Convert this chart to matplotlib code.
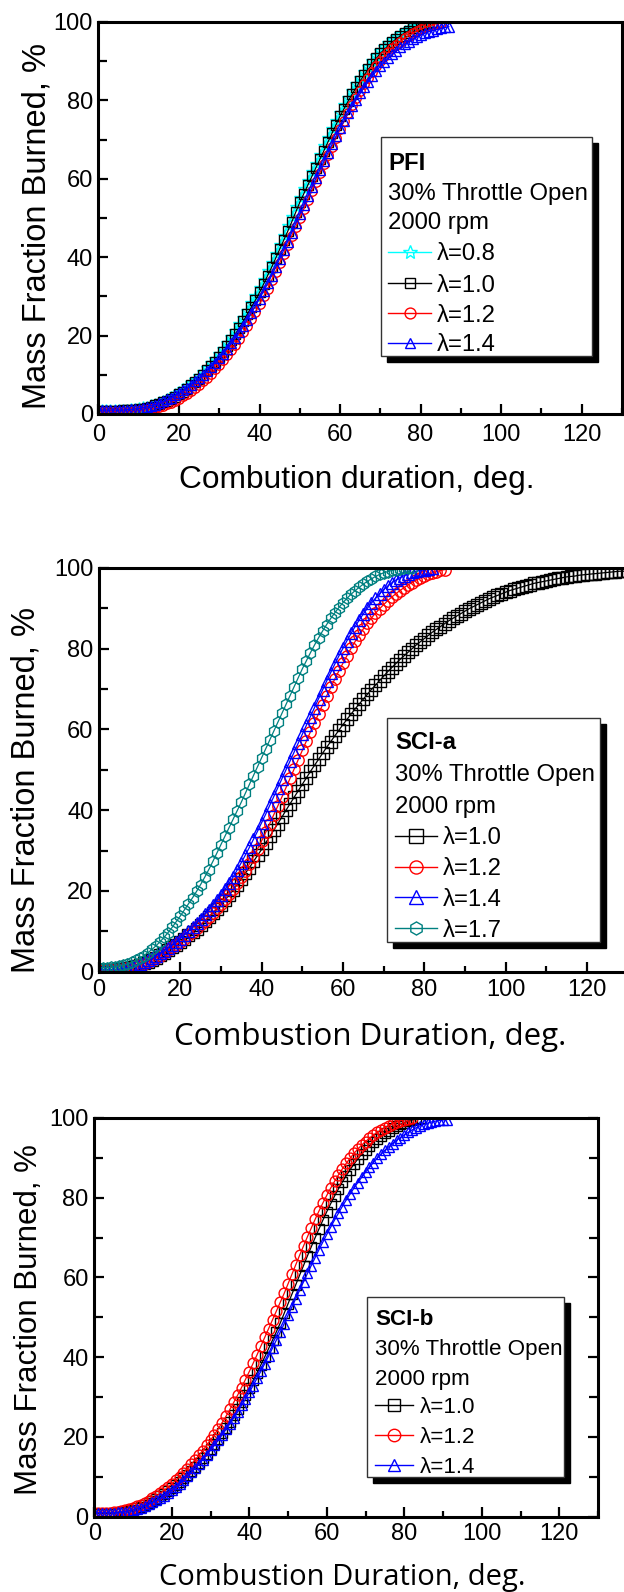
import numpy as np
import matplotlib.pyplot as plt
from matplotlib.lines import Line2D
from matplotlib.patches import Rectangle
from matplotlib.ticker import MultipleLocator

plt.rcParams['font.family'] = ['Liberation Sans', 'DejaVu Sans']

# ---------------- data (mass fraction burned, % ; one value per crank degree) ----------------
# PFI
pfi_l08 = [1.0, 1.0, 1.0, 1.0, 1.0, 1.0, 1.1, 1.1, 1.2, 1.3, 1.5, 1.7, 1.9, 2.2, 2.6, 3.0, 3.4, 3.9, 4.4, 5.0,
           5.6, 6.3, 7.1, 7.9, 8.8, 9.7, 10.7, 11.8, 12.9, 14.1, 15.3, 16.7, 18.1, 19.6, 21.2, 22.9, 24.6, 26.4, 28.2, 30.1,
           32.1, 34.2, 36.4, 38.6, 40.9, 43.2, 45.5, 47.9, 50.3, 52.7, 55.0, 57.3, 59.5, 61.7, 63.9, 66.1, 68.3, 70.5, 72.7, 74.8,
           76.9, 78.8, 80.6, 82.4, 84.1, 85.7, 87.2, 88.6, 90.0, 91.3, 92.5, 93.6, 94.6, 95.5, 96.3, 97.0, 97.6, 98.2, 98.7, 99.1,
           99.5, 99.8, 100.0]
pfi_l10 = [0.8, 0.8, 0.8, 0.8, 0.8, 0.8, 0.9, 0.9, 1.0, 1.1, 1.2, 1.4, 1.6, 1.9, 2.2, 2.5, 3.0, 3.4, 3.9, 4.4,
           5.0, 5.7, 6.5, 7.3, 8.1, 9.0, 10.0, 11.1, 12.2, 13.3, 14.5, 15.9, 17.3, 18.8, 20.4, 22.0, 23.7, 25.5, 27.3, 29.1,
           31.0, 33.1, 35.3, 37.4, 39.7, 42.0, 44.3, 46.6, 49.0, 51.5, 54.0, 56.2, 58.4, 60.6, 62.8, 65.0, 67.2, 69.4, 71.6, 73.8,
           76.0, 77.9, 79.8, 81.6, 83.3, 85.0, 86.5, 87.9, 89.3, 90.7, 92.0, 93.0, 94.0, 94.9, 95.7, 96.5, 97.2, 97.8, 98.4, 98.9,
           99.3, 99.6, 99.8, 100.0]
pfi_l12 = [0.5, 0.5, 0.5, 0.5, 0.5, 0.5, 0.5, 0.6, 0.6, 0.7, 0.8, 0.9, 1.1, 1.3, 1.5, 1.8, 2.1, 2.5, 2.9, 3.4,
           3.9, 4.5, 5.1, 5.8, 6.6, 7.4, 8.3, 9.3, 10.3, 11.4, 12.5, 13.7, 15.0, 16.3, 17.7, 19.2, 20.8, 22.5, 24.3, 26.1,
           28.0, 30.0, 32.0, 34.1, 36.3, 38.5, 40.8, 43.1, 45.4, 47.7, 50.0, 52.3, 54.6, 56.9, 59.2, 61.5, 63.8, 66.0, 68.2, 70.4,
           72.6, 74.7, 76.8, 78.8, 80.7, 82.5, 84.2, 85.8, 87.3, 88.7, 90.0, 91.2, 92.3, 93.3, 94.2, 95.0, 95.8, 96.5, 97.1, 97.7,
           98.2, 98.6, 99.0, 99.3, 99.6, 99.8]
pfi_l14 = [1.0, 1.0, 1.0, 1.0, 1.0, 1.0, 1.0, 1.1, 1.2, 1.3, 1.4, 1.6, 1.8, 2.1, 2.4, 2.8, 3.2, 3.7, 4.2, 4.8,
           5.4, 6.0, 6.7, 7.5, 8.3, 9.1, 10.0, 11.0, 12.0, 13.1, 14.2, 15.4, 16.7, 18.0, 19.4, 20.9, 22.5, 24.1, 25.8, 27.6,
           29.4, 31.3, 33.3, 35.3, 37.4, 39.6, 41.8, 44.0, 46.3, 48.6, 50.9, 53.2, 55.5, 57.8, 60.1, 62.3, 64.5, 66.7, 68.8, 70.9,
           72.9, 74.8, 76.7, 78.5, 80.2, 81.8, 83.3, 84.8, 86.2, 87.5, 88.7, 89.8, 90.8, 91.8, 92.7, 93.5, 94.3, 95.0, 95.6, 96.2,
           96.7, 97.1, 97.5, 97.8, 98.1, 98.4, 98.6, 98.8]

# SCI-a
scia_l10 = [0.5, 0.5, 0.5, 0.5, 0.5, 0.6, 0.7, 0.9, 1.1, 1.4, 1.7, 2.1, 2.5, 3.0, 3.5, 4.1, 4.7, 5.3, 6.0, 6.7,
            7.4, 8.2, 9.0, 9.8, 10.7, 11.6, 12.5, 13.5, 14.5, 15.5, 16.6, 17.8, 19.0, 20.3, 21.6, 23.0, 24.4, 25.8, 27.3, 28.8,
            30.3, 31.9, 33.5, 35.1, 36.7, 38.3, 40.0, 41.6, 43.2, 44.8, 46.4, 48.0, 49.6, 51.1, 52.6, 54.1, 55.6, 57.0, 58.4, 59.8,
            61.2, 62.5, 63.8, 65.1, 66.3, 67.5, 68.7, 69.9, 71.0, 72.1, 73.2, 74.3, 75.3, 76.3, 77.3, 78.2, 79.1, 80.0, 80.9, 81.7,
            82.5, 83.3, 84.1, 84.8, 85.5, 86.2, 86.9, 87.5, 88.1, 88.7, 89.3, 89.9, 90.4, 90.9, 91.4, 91.9, 92.4, 92.8, 93.2, 93.6,
            94.0, 94.4, 94.7, 95.0, 95.3, 95.6, 95.9, 96.2, 96.4, 96.6, 96.8, 97.0, 97.2, 97.4, 97.6, 97.8, 97.9, 98.0, 98.2, 98.3,
            98.4, 98.5, 98.6, 98.7, 98.8, 98.9, 99.0, 99.1, 99.2, 99.2, 99.3]
scia_l12 = [0.3, 0.3, 0.3, 0.3, 0.4, 0.5, 0.6, 0.8, 1.0, 1.3, 1.6, 2.0, 2.4, 2.9, 3.4, 4.0, 4.6, 5.3, 6.0, 6.7,
            7.4, 8.2, 9.0, 9.9, 10.8, 11.7, 12.6, 13.6, 14.6, 15.7, 16.8, 18.0, 19.2, 20.5, 21.9, 23.4, 25.0, 26.7, 28.5, 30.4,
            32.4, 34.5, 36.7, 38.9, 41.1, 43.3, 45.6, 47.9, 50.2, 52.5, 54.8, 57.1, 59.4, 61.7, 63.9, 66.1, 68.3, 70.4, 72.5, 74.5,
            76.4, 78.3, 80.1, 81.8, 83.4, 84.9, 86.3, 87.6, 88.8, 89.9, 90.9, 91.9, 92.8, 93.6, 94.4, 95.1, 95.8, 96.4, 97.0, 97.5,
            98.0, 98.4, 98.8, 99.1, 99.4, 99.6]
scia_l14 = [0.5, 0.5, 0.5, 0.5, 0.6, 0.7, 0.8, 1.0, 1.3, 1.6, 2.0, 2.4, 2.9, 3.4, 4.0, 4.6, 5.2, 5.9, 6.6, 7.4,
            8.2, 9.1, 10.0, 11.0, 12.0, 13.1, 14.2, 15.3, 16.5, 17.7, 19.0, 20.4, 21.9, 23.5, 25.2, 27.0, 28.9, 30.8, 32.8, 34.8,
            36.9, 39.0, 41.2, 43.4, 45.6, 47.8, 50.0, 52.2, 54.4, 56.6, 58.8, 61.0, 63.2, 65.4, 67.6, 69.8, 72.0, 74.1, 76.2, 78.2,
            80.1, 82.0, 83.8, 85.5, 87.1, 88.6, 90.0, 91.3, 92.5, 93.6, 94.6, 95.5, 96.3, 97.0, 97.6, 98.1, 98.5, 98.9, 99.2, 99.4,
            99.6, 99.8, 99.9]
scia_l17 = [1.0, 1.0, 1.0, 1.1, 1.2, 1.4, 1.6, 1.9, 2.3, 2.8, 3.4, 4.0, 4.7, 5.5, 6.4, 7.4, 8.5, 9.7, 11.0, 12.4,
            13.8, 15.3, 16.8, 18.3, 19.9, 21.6, 23.4, 25.3, 27.3, 29.4, 31.5, 33.6, 35.7, 37.8, 39.9, 42.0, 44.2, 46.4, 48.6, 50.8,
            53.0, 55.2, 57.4, 59.6, 61.8, 64.0, 66.2, 68.4, 70.6, 72.8, 75.0, 77.0, 79.0, 80.9, 82.7, 84.4, 86.0, 87.5, 88.9, 90.2,
            91.4, 92.5, 93.5, 94.4, 95.2, 96.0, 96.7, 97.3, 97.9, 98.4, 98.8, 99.1, 99.4, 99.6, 99.8, 99.9, 100.0, 100.0]

# SCI-b
scib_l10 = [0.8, 0.8, 0.8, 0.8, 0.8, 0.9, 1.0, 1.1, 1.3, 1.5, 1.8, 2.1, 2.5, 2.9, 3.4, 3.9, 4.5, 5.1, 5.7, 6.4,
            7.1, 7.9, 8.7, 9.6, 10.5, 11.4, 12.4, 13.5, 14.6, 15.8, 17.0, 18.2, 19.5, 20.9, 22.3, 23.8, 25.4, 27.0, 28.7, 30.5,
            32.3, 34.2, 36.1, 38.1, 40.1, 42.2, 44.3, 46.4, 48.6, 51.0, 53.4, 55.8, 58.2, 60.6, 63.0, 65.4, 67.7, 70.0, 72.2, 74.4,
            76.5, 78.5, 80.4, 82.2, 83.9, 85.5, 87.0, 88.4, 89.7, 90.9, 92.0, 93.0, 93.9, 94.7, 95.5, 96.2, 96.8, 97.4, 97.9, 98.4,
            98.8, 99.2, 99.5, 99.7, 99.9]
scib_l12 = [1.0, 1.0, 1.0, 1.0, 1.0, 1.1, 1.2, 1.4, 1.6, 1.9, 2.2, 2.6, 3.0, 3.5, 4.0, 4.6, 5.2, 5.9, 6.6, 7.4,
            8.2, 9.1, 10.0, 11.0, 12.0, 13.1, 14.2, 15.4, 16.6, 17.9, 19.2, 20.6, 22.1, 23.6, 25.2, 26.9, 28.7, 30.5, 32.4, 34.4,
            36.4, 38.5, 40.6, 42.8, 45.0, 47.2, 49.4, 51.6, 53.8, 56.0, 58.4, 60.8, 63.2, 65.6, 67.9, 70.2, 72.4, 74.6, 76.7, 78.7,
            80.6, 82.4, 84.1, 85.7, 87.2, 88.6, 89.9, 91.1, 92.2, 93.2, 94.1, 94.9, 95.7, 96.4, 97.0, 97.6, 98.1, 98.6, 99.0, 99.3,
            99.6, 99.8, 100.0]
scib_l14 = [1.0, 1.0, 1.0, 1.0, 1.0, 1.0, 1.1, 1.2, 1.3, 1.5, 1.7, 2.0, 2.3, 2.7, 3.1, 3.6, 4.1, 4.7, 5.3, 6.0,
            6.7, 7.5, 8.3, 9.2, 10.1, 11.1, 12.1, 13.2, 14.3, 15.5, 16.7, 17.9, 19.2, 20.5, 21.9, 23.3, 24.8, 26.3, 27.9, 29.5,
            31.2, 32.9, 34.7, 36.5, 38.4, 40.3, 42.3, 44.3, 46.3, 48.4, 50.5, 52.6, 54.7, 56.8, 58.9, 61.0, 63.0, 65.0, 67.0, 68.9,
            70.8, 72.6, 74.4, 76.1, 77.8, 79.4, 80.9, 82.4, 83.8, 85.1, 86.4, 87.6, 88.8, 89.9, 90.9, 91.9, 92.8, 93.6, 94.4, 95.1,
            95.8, 96.4, 97.0, 97.5, 98.0, 98.4, 98.7, 99.0, 99.2, 99.4, 99.5, 99.6]

header_lines = ['30% Throttle Open', '2000 rpm']
panels = [
    dict(name='PFI', series=[pfi_l08, pfi_l10, pfi_l12, pfi_l14],
         labels=['λ=0.8', 'λ=1.0', 'λ=1.2', 'λ=1.4'],
         colors=['#00FFFF', 'black', 'red', 'blue'], markers=['*', 's', 'o', '^'],
         xlabel='Combution duration, deg.'),
    dict(name='SCI-a', series=[scia_l10, scia_l12, scia_l14, scia_l17],
         labels=['λ=1.0', 'λ=1.2', 'λ=1.4', 'λ=1.7'],
         colors=['black', 'red', 'blue', '#008080'], markers=['s', 'o', '^', 'h'],
         xlabel='Combustion Duration, deg.'),
    dict(name='SCI-b', series=[scib_l10, scib_l12, scib_l14],
         labels=['λ=1.0', 'λ=1.2', 'λ=1.4'],
         colors=['black', 'red', 'blue'], markers=['s', 'o', '^'],
         xlabel='Combustion Duration, deg.'),
]

# ---------------- layout (pixels of the 624x1592 canvas) ----------------
W, H = 624, 1592
fig = plt.figure(figsize=(W / 100, H / 100), dpi=100)
fig.patch.set_facecolor('white')


def fx(x):
    return x / W


def fy(y):
    return 1 - y / H


axes_px = [(98.4, 22, 622, 414), (99, 568, 627.5, 971.7), (94.3, 1118, 598, 1516.7)]
ms_list = [6.8, 8.2, 7.8]
xlab_cfg = [(357, 480, 'Liberation Sans', 22.8), (370, 1037, 'Open Sans', 22.5), (342, 1577, 'Open Sans', 21)]
ylab_cfg = [(37, 226, 23.5), (26, 790, 23.5), (29, 1320, 22.5)]
pads = [(7, 4), (5, 4), (4.5, 4)]

# legend boxes: (left, top, right, bottom), row centres, text x, handle x0, x1, label x, font size
leg_cfg = [
    ((381, 137, 592, 356), [161.7, 191, 220, 251.7, 283, 313, 342.7], 388, 388, 431, 437, 17.2),
    ((387, 718, 600, 942), [740, 772.7, 804, 835.7, 866.7, 897.3, 928.3], 395, 395, 437, 443, 17.2),
    ((367, 1297, 564, 1477), [1317.3, 1346.7, 1376.7, 1405, 1435, 1465], 375, 375, 413, 420, 16.1),
]

for i, p in enumerate(panels):
    l, t, r, b = axes_px[i]
    ax = fig.add_axes([fx(l), fy(b), fx(r - l), (b - t) / H])
    for ys, c, m in zip(p['series'], p['colors'], p['markers']):
        xs = np.arange(len(ys))
        ms = ms_list[i] * (1.35 if m == '*' else 1.0)
        ax.plot(xs, ys, color=c, lw=0.9, marker=m, ms=ms, mfc='none', mec=c, mew=1.0)
    ax.set_xlim(0, 130)
    ax.set_ylim(0, 100)
    ax.xaxis.set_major_locator(MultipleLocator(20))
    ax.xaxis.set_minor_locator(MultipleLocator(10))
    ax.yaxis.set_major_locator(MultipleLocator(20))
    ax.yaxis.set_minor_locator(MultipleLocator(10))
    for s in ax.spines.values():
        s.set_linewidth(2.2)
    ax.tick_params(which='major', direction='in', length=7, width=1.6, labelsize=17,
                   right=(i == 2), top=False)
    ax.tick_params(which='minor', direction='in', length=4.5, width=1.6, right=(i == 2), top=False)
    ax.tick_params(axis='y', which='minor', length=6.5)
    ax.tick_params(axis='x', pad=pads[i][0])
    ax.tick_params(axis='y', pad=pads[i][1])

    # axis labels
    xx, xy, xfam, xfs = xlab_cfg[i]
    fig.text(fx(xx), fy(xy), p['xlabel'], ha='center', va='center', fontsize=xfs,
             family=[xfam, 'DejaVu Sans'])
    yx, yy, yfs = ylab_cfg[i]
    fig.text(fx(yx), fy(yy), 'Mass Fraction Burned, %', ha='center', va='center',
             rotation=90, fontsize=yfs)

    # legend box with shadow
    (bl, bt, br, bb), rows, tx, hx0, hx1, lx, fs = leg_cfg[i]
    fig.add_artist(Rectangle((fx(bl + 6), fy(bb + 6)), fx(br - bl), (bb - bt) / H,
                             transform=fig.transFigure, facecolor='black', edgecolor='black', zorder=5))
    fig.add_artist(Rectangle((fx(bl), fy(bb)), fx(br - bl), (bb - bt) / H,
                             transform=fig.transFigure, facecolor='white', edgecolor='#333333',
                             lw=1.0, zorder=6))
    cap = 0.716 * fs * 100 / 72 / 2
    fig.text(fx(tx), fy(rows[0] + cap), p['name'], ha='left', va='baseline', fontsize=fs,
             weight='bold', zorder=7)
    for k, txt in enumerate(header_lines):
        fig.text(fx(tx), fy(rows[k + 1] + cap), txt, ha='left', va='baseline', fontsize=fs, zorder=7)
    for k, (lab, c, m) in enumerate(zip(p['labels'], p['colors'], p['markers'])):
        yr = rows[k + 3]
        ms = ms_list[i] * (1.35 if m == '*' else 1.0) * 1.15
        fig.add_artist(Line2D([fx(hx0), fx((hx0 + hx1) / 2), fx(hx1)], [fy(yr)] * 3,
                              transform=fig.transFigure, color=c, lw=1.0, marker=m, markevery=[1],
                              ms=ms, mfc='none', mec=c, mew=1.0, zorder=7))
        fig.text(fx(lx), fy(yr + cap), lab, ha='left', va='baseline', fontsize=fs, zorder=7)

fig.savefig('out.png', dpi=100, facecolor='white')
